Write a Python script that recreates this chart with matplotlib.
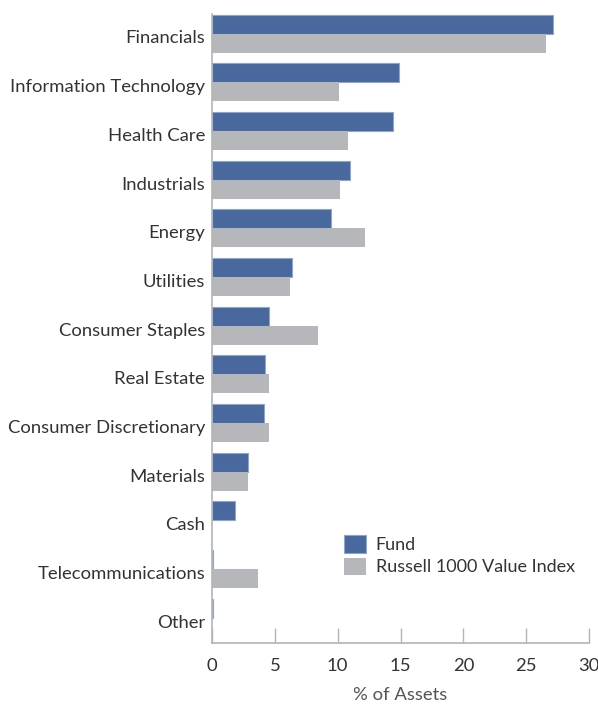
import matplotlib
matplotlib.use("Agg")
import matplotlib.pyplot as plt
import numpy as np

plt.rcParams['font.family'] = ['Lato', 'DejaVu Sans']

categories = ["Financials", "Information Technology", "Health Care", "Industrials",
              "Energy", "Utilities", "Consumer Staples", "Real Estate",
              "Consumer Discretionary", "Materials", "Cash", "Telecommunications", "Other"]
fund = [27.1, 14.9, 14.4, 11.0, 9.5, 6.4, 4.5, 4.2, 4.1, 2.9, 1.8, 0.1, 0.1]
russell = [26.6, 10.1, 10.8, 10.2, 12.2, 6.2, 8.4, 4.5, 4.5, 2.9, 0.0, 3.7, 0.0]

fund_col = "#48689e"
russ_col = "#b6b7bb"
axis_col = "#b4b4b4"
text_col = "#333333"
fs = 13.3

fig = plt.figure(figsize=(5.98, 7.04), dpi=100)
ax = fig.add_axes([0.3545, 0.0866, 0.985 - 0.3545, 0.980 - 0.0866])

y = np.arange(len(categories))
h = 0.39
off = -0.07  # bars sit a little above the label centre
ax.barh(y - h / 2 + off, fund, height=h, color=fund_col, edgecolor="#8fa6cc", linewidth=0.8, label="Fund")
ax.barh(y + h / 2 + off, russell, height=h, color=russ_col, linewidth=0, label="Russell 1000 Value Index")

ax.set_ylim(12.45, -0.47)
ax.set_xlim(0, 30)
ax.set_yticks(y)
ax.set_yticklabels(categories, fontsize=fs, color=text_col)
ax.tick_params(axis='y', length=0, pad=5)
ax.set_xticks(range(0, 31, 5))
ax.tick_params(axis='x', direction='in', length=11, width=1, color=axis_col,
               labelsize=fs, labelcolor=text_col, pad=11)
ax.set_xlabel("% of Assets", fontsize=fs, color="#555555", labelpad=9)

for s in ["top", "right"]:
    ax.spines[s].set_visible(False)
for s in ["left", "bottom"]:
    ax.spines[s].set_color(axis_col)
    ax.spines[s].set_linewidth(1.2)

ax.legend(loc="upper left", bbox_to_anchor=(337 / 598, 1 - 528 / 704),
          bbox_transform=fig.transFigure, frameon=False, fontsize=fs - 0.3,
          handlelength=1.2, handleheight=1.1, handletextpad=0.55,
          labelspacing=0.25, borderaxespad=0, labelcolor=text_col)

fig.savefig("out.png", dpi=100)
